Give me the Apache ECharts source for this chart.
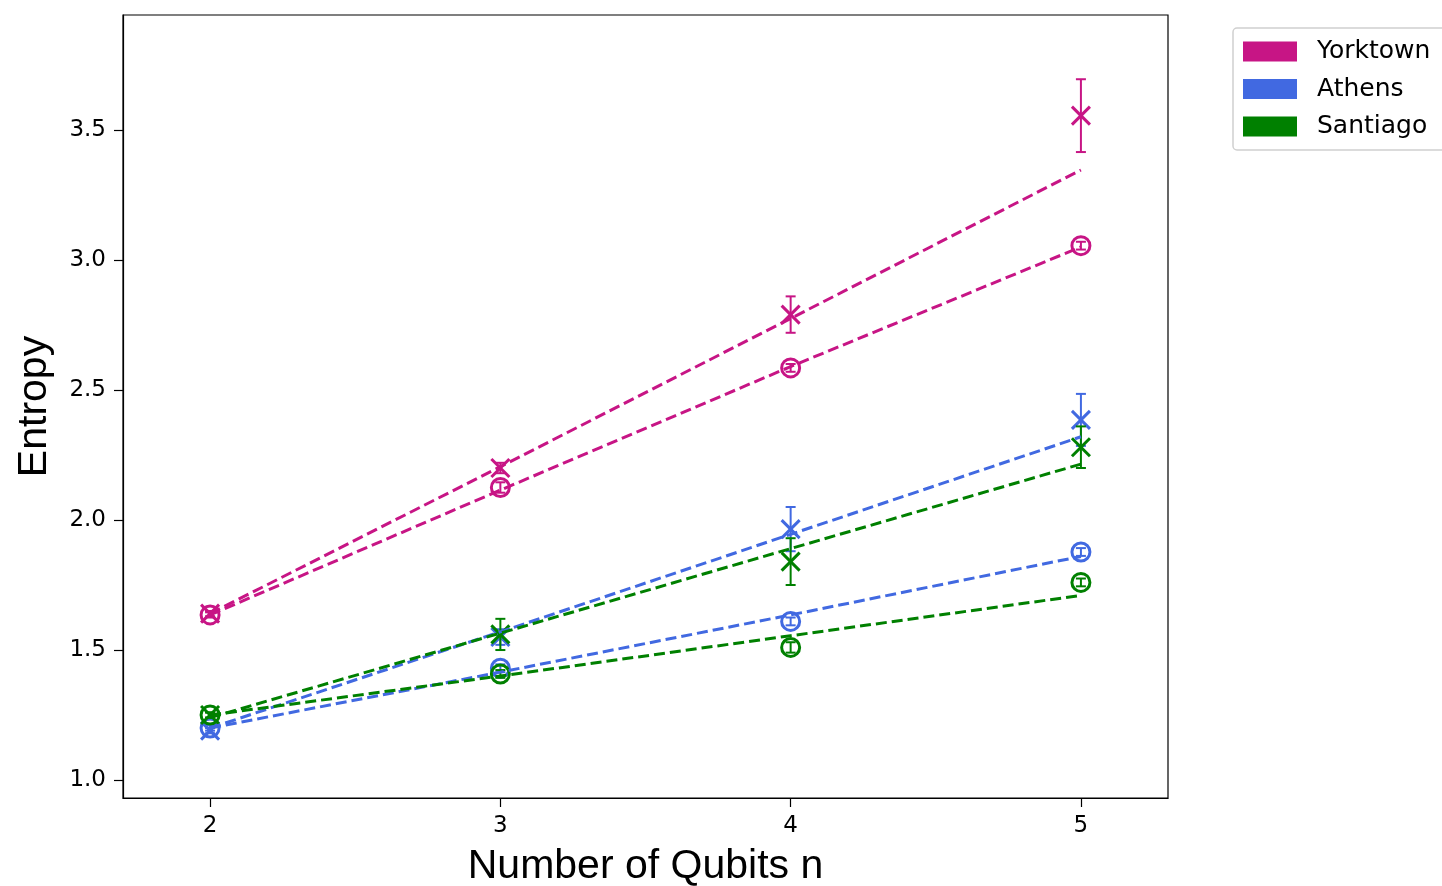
<!DOCTYPE html>
<html>
<head>
<meta charset="utf-8">
<script src="https://cdn.jsdelivr.net/npm/echarts@6/dist/echarts.min.js"></script>
<style>html,body{margin:0;padding:0;background:#fff;}#c{width:1442px;height:886px;}</style>
</head>
<body>
<div id="c"></div>
<script>
const qubits = [2, 3, 4, 5];
const xTicks = [2, 3, 4, 5];
const yTicks = [1.0, 1.5, 2.0, 2.5, 3.0, 3.5];
const devices = ['Yorktown', 'Athens', 'Santiago'];
const colors = {Yorktown: '#C71585', Athens: '#4169E1', Santiago: '#008000'};

// cross-marker measurements
const yorktownX = [1.64, 2.20, 2.79, 3.555];
const yorktownXErr = [0.01, 0.02, 0.07, 0.14];
const athensX = [1.19, 1.55, 1.965, 2.385];
const athensXErr = [0.01, 0.03, 0.085, 0.10];
const santiagoX = [1.25, 1.56, 1.84, 2.28];
const santiagoXErr = [0.01, 0.06, 0.09, 0.08];
// circle-marker measurements
const yorktownO = [1.635, 2.125, 2.585, 3.055];
const yorktownOErr = [0.01, 0.02, 0.015, 0.015];
const athensO = [1.20, 1.43, 1.61, 1.877];
const athensOErr = [0.01, 0.015, 0.015, 0.015];
const santiagoO = [1.25, 1.408, 1.51, 1.76];
const santiagoOErr = [0.01, 0.015, 0.02, 0.015];
// dashed fit lines
const yorktownXFit = [1.64, 2.205, 2.775, 3.346];
const yorktownOFit = [1.635, 2.115, 2.59, 3.05];
const athensXFit = [1.20, 1.57, 1.945, 2.32];
const athensOFit = [1.20, 1.415, 1.635, 1.86];
const santiagoXFit = [1.24, 1.565, 1.89, 2.215];
const santiagoOFit = [1.25, 1.40, 1.555, 1.71];

const groups = [
  {dev: 'Yorktown', x: yorktownX, xe: yorktownXErr, o: yorktownO, oe: yorktownOErr, xf: yorktownXFit, of: yorktownOFit},
  {dev: 'Athens', x: athensX, xe: athensXErr, o: athensO, oe: athensOErr, xf: athensXFit, of: athensOFit},
  {dev: 'Santiago', x: santiagoX, xe: santiagoXErr, o: santiagoO, oe: santiagoOErr, xf: santiagoXFit, of: santiagoOFit}
];

function errSeries(name, vals, errs, color, marker) {
  return {
    type: 'custom', name: name, silent: true,
    data: qubits.map((q, i) => [q, vals[i], vals[i] - errs[i], vals[i] + errs[i]]),
    renderItem: function (params, api) {
      const p = api.coord([api.value(0), api.value(1)]);
      const lo = api.coord([api.value(0), api.value(2)]);
      const hi = api.coord([api.value(0), api.value(3)]);
      const st = {stroke: color, lineWidth: 2, fill: null};
      const ch = [
        {type: 'line', shape: {x1: p[0], y1: lo[1], x2: p[0], y2: hi[1]}, style: st},
        {type: 'line', shape: {x1: p[0] - 5, y1: lo[1], x2: p[0] + 5, y2: lo[1]}, style: st},
        {type: 'line', shape: {x1: p[0] - 5, y1: hi[1], x2: p[0] + 5, y2: hi[1]}, style: st}
      ];
      if (marker === 'x') {
        const s = 9, ms = {stroke: color, lineWidth: 3, fill: null};
        ch.push({type: 'line', shape: {x1: p[0] - s, y1: p[1] - s, x2: p[0] + s, y2: p[1] + s}, style: ms});
        ch.push({type: 'line', shape: {x1: p[0] - s, y1: p[1] + s, x2: p[0] + s, y2: p[1] - s}, style: ms});
      } else {
        ch.push({type: 'circle', shape: {cx: p[0], cy: p[1], r: 9}, style: {stroke: color, lineWidth: 3, fill: null}});
      }
      return {type: 'group', children: ch};
    },
    z: 3
  };
}
function fitSeries(name, vals, color) {
  return {
    type: 'line', name: name, silent: true, symbol: 'none',
    data: qubits.map((q, i) => [q, vals[i]]),
    lineStyle: {color: color, width: 3, type: [11, 5]},
    z: 4
  };
}

const series = [];
groups.forEach(g => {
  const c = colors[g.dev];
  series.push(errSeries(g.dev + ' x', g.x, g.xe, c, 'x'));
  series.push(fitSeries(g.dev + ' xfit', g.xf, c));
  series.push(errSeries(g.dev + ' o', g.o, g.oe, c, 'o'));
  series.push(fitSeries(g.dev + ' ofit', g.of, c));
});
devices.forEach(d => {
  series.push({type: 'line', name: d, data: [], itemStyle: {color: colors[d]}, lineStyle: {color: colors[d]}});
});

const chart = echarts.init(document.getElementById('c'), null, {renderer: 'canvas'});
chart.setOption({
  animation: false,
  backgroundColor: '#fff',
  grid: {left: 123, right: 274, top: 15, bottom: 88, containLabel: false, outerBoundsMode: 'none',
    show: true, borderColor: '#000', borderWidth: 1.2, backgroundColor: 'transparent'},
  legend: {
    left: 1233, top: 28, orient: 'vertical',
    data: devices.map(d => ({name: d, icon: 'rect', itemStyle: {color: colors[d], borderWidth: 0}})),
    itemWidth: 54, itemHeight: 20, itemGap: 12.5,
    padding: [11, 30, 11, 10],
    borderColor: '#d0d0d0', borderWidth: 1.5, borderRadius: 4,
    textStyle: {fontFamily: 'DejaVu Sans', fontSize: 25, color: '#000', padding: [0, 0, 0, 15]},
    selectedMode: false
  },
  xAxis: {
    type: 'value', min: 1.7, max: 5.3,
    name: 'Number of Qubits n', nameLocation: 'middle', nameGap: 48,
    nameTextStyle: {fontFamily: 'Liberation Sans', fontSize: 41, color: '#000'},
    axisLine: {show: true, onZero: false, lineStyle: {color: '#000', width: 1.2}},
    axisTick: {show: true, length: 9, lineStyle: {color: '#000', width: 1.2}, customValues: xTicks},
    axisLabel: {fontFamily: 'DejaVu Sans', fontSize: 23, color: '#000', margin: 17, customValues: xTicks, formatter: v => String(v)},
    splitLine: {show: false}
  },
  yAxis: {
    type: 'value', min: 0.931, max: 3.942,
    name: 'Entropy', nameLocation: 'middle', nameGap: 68, nameRotate: 90,
    nameTextStyle: {fontFamily: 'Liberation Sans', fontSize: 41, color: '#000'},
    axisLine: {show: true, onZero: false, lineStyle: {color: '#000', width: 1.2}},
    axisTick: {show: true, length: 9, lineStyle: {color: '#000', width: 1.2}, customValues: yTicks},
    axisLabel: {fontFamily: 'DejaVu Sans', fontSize: 23, color: '#000', margin: 17, customValues: yTicks, formatter: v => v.toFixed(1)},
    splitLine: {show: false}
  },
  series: series
});
</script>
</body>
</html>
